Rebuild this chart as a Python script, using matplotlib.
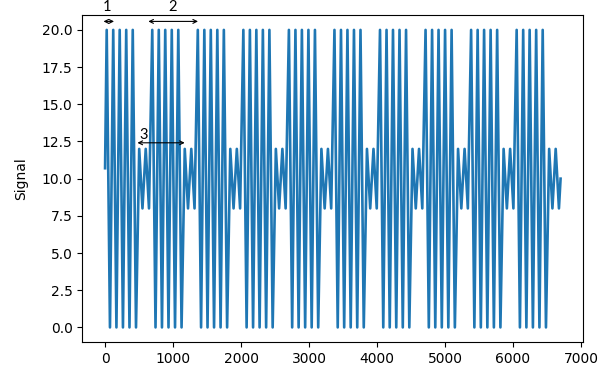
import matplotlib.pyplot as plt

# start of each block (signal crosses 10 going up)
block_starts = [0, 670, 1340, 2010, 2680, 3350, 4020, 4690, 5360, 6030]
# peaks/troughs inside one block: 5 big swings, then 2 small ones
peak_offsets = [24, 72, 120, 167, 215, 263, 311, 359, 407, 455, 502, 550, 598, 646]
peak_levels = [20, 0, 20, 0, 20, 0, 20, 0, 20, 0, 12, 8, 12, 8]
start_value = 10.7
end_x, end_value = 6700, 10.0

# notes drawn on top of the plot: label, x from, x to, y of arrow, text spot
notes = ["1", "2", "3"]
note_x0 = [-23, 636, 476]
note_x1 = [132, 1367, 1171]
note_y = [20.57, 20.57, 12.41]
note_text_x = [35, 990, 573]
note_text_y = [21.55, 21.55, 12.95]

xs = [0]
ys = [start_value]
for b in block_starts:
    for off, lev in zip(peak_offsets, peak_levels):
        xs.append(b + off)
        ys.append(lev)
xs.append(end_x)
ys.append(end_value)

fig = plt.figure(figsize=(6.16, 3.83), dpi=100)
ax = fig.add_axes([0.1336, 0.1063, 0.8134, 0.8545])
ax.plot(xs, ys, color="#1f77b4", lw=1.9)
ax.set_ylabel("Signal", labelpad=10)

for lab, x0, x1, y, tx, ty in zip(notes, note_x0, note_x1, note_y, note_text_x, note_text_y):
    ax.annotate("", xy=(x0, y), xytext=(x1, y),
                arrowprops=dict(arrowstyle="<->", color="black", lw=0.8,
                                shrinkA=0, shrinkB=0, mutation_scale=7),
                annotation_clip=False)
    ax.text(tx, ty, lab, ha="center", va="center", fontsize=10.5,
            family="Lato", clip_on=False)

fig.savefig("out.png")
